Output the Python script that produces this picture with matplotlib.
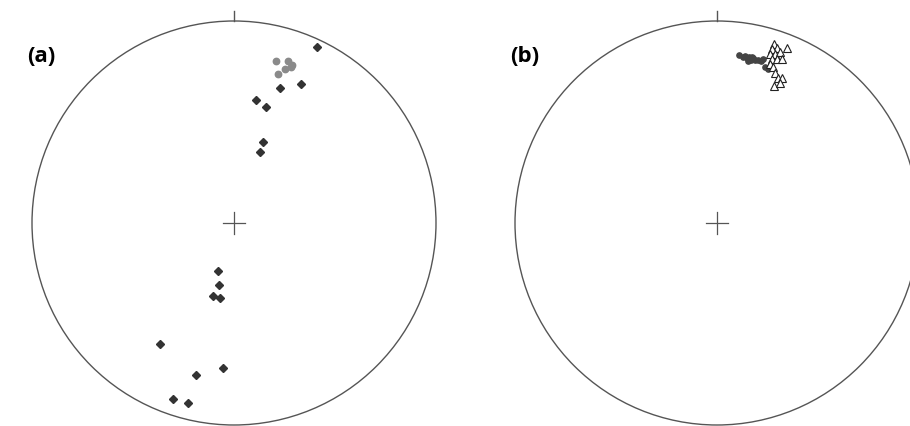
import matplotlib.pyplot as plt
import numpy as np
from matplotlib.patches import Circle

# net (a): positions in units of the net radius (x east, y north)
a_dark_x = np.array([0.41, 0.23, 0.33, 0.11, 0.16, 0.145, 0.13,
                     -0.08, -0.075, -0.105, -0.07, -0.365, -0.055, -0.19, -0.30, -0.23])
a_dark_y = np.array([0.87, 0.67, 0.69, 0.61, 0.575, 0.40, 0.35,
                     -0.24, -0.305, -0.36, -0.37, -0.60, -0.72, -0.75, -0.87, -0.89])
a_grey_x = np.array([0.21, 0.265, 0.285, 0.25, 0.22, 0.28])
a_grey_y = np.array([0.80, 0.80, 0.78, 0.76, 0.74, 0.77])

# net (b)
b_dark_x = np.array([0.11, 0.128, 0.14, 0.15, 0.16, 0.167, 0.177, 0.19,
                     0.205, 0.217, 0.23, 0.24, 0.25, 0.155, 0.175])
b_dark_y = np.array([0.83, 0.82, 0.828, 0.815, 0.824, 0.805, 0.815, 0.805,
                     0.805, 0.80, 0.81, 0.77, 0.762, 0.80, 0.822])
b_tri_x = np.array([0.28, 0.295, 0.27, 0.345, 0.263, 0.288, 0.313, 0.27, 0.295,
                    0.32, 0.263, 0.276, 0.288, 0.304, 0.32, 0.28, 0.313])
b_tri_y = np.array([0.885, 0.865, 0.86, 0.865, 0.835, 0.835, 0.845, 0.81, 0.81,
                    0.81, 0.785, 0.77, 0.745, 0.72, 0.72, 0.68, 0.695])

fig = plt.figure(figsize=(9.1, 4.26), dpi=100)

R = 202
W, H = 910, 426
half = 212


def net(cx, cy, label):
    ax = fig.add_axes([(cx - half) / W, (H - cy - half) / H, 2 * half / W, 2 * half / H])
    lim = half / R
    ax.set_xlim(-lim, lim)
    ax.set_ylim(-lim, lim)
    ax.set_aspect('equal')
    ax.axis('off')
    ax.add_patch(Circle((0, 0), 1, fill=False, ec='#555555', lw=1.0, clip_on=False))
    ax.plot([0, 0], [1, 1.05], color='#555555', lw=1.0, clip_on=False)
    ax.plot([-0.052, 0.052], [0, 0], color='#555555', lw=0.9)
    ax.plot([0, 0], [-0.052, 0.052], color='#555555', lw=0.9)
    fig.text((cx - 207) / W, 1 - 56 / H, label, fontsize=16, fontweight='bold',
             family='Open Sans', va='center', ha='left')
    return ax


ax1 = net(234, 223, '(a)')
ax1.plot(a_dark_x, a_dark_y, 'D', color='#333333', ms=3.6, mec='#333333')
ax1.plot(a_grey_x, a_grey_y, 'o', color='#8a8a8a', ms=4.6, mec='#8a8a8a')

ax2 = net(717, 223, '(b)')
ax2.plot(b_dark_x, b_dark_y, 'o', color='#444444', ms=3.8, mec='#444444')
ax2.plot(b_tri_x, b_tri_y, '^', mfc='white', mec='#222222', ms=5.5, mew=0.8)

fig.savefig('out.png', dpi=100)
